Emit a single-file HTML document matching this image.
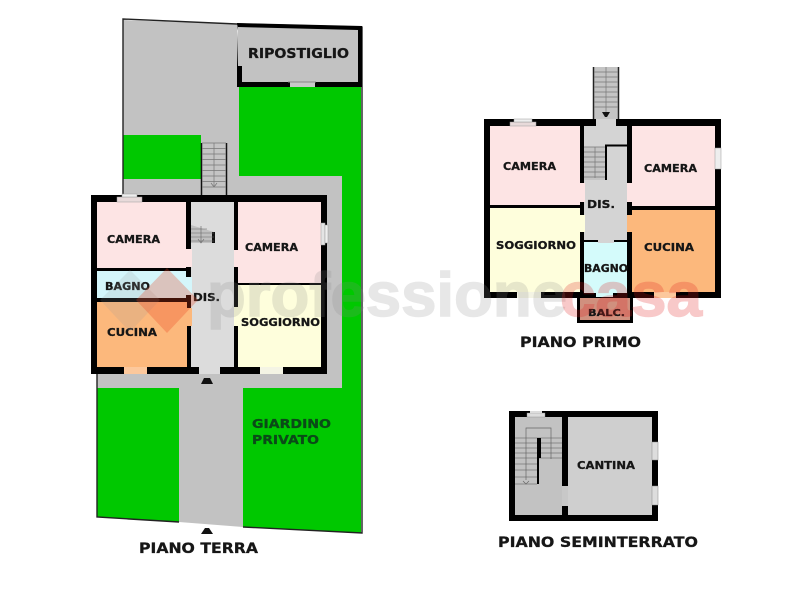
<!DOCTYPE html>
<html><head><meta charset="utf-8"><style>
html,body{margin:0;padding:0;background:#fff;width:800px;height:600px;overflow:hidden}
svg{display:block;filter:blur(.35px)}
text{font-family:"DejaVu Sans","Liberation Sans",sans-serif;font-weight:bold;fill:#161616;stroke:#161616;stroke-width:.3}
</style></head><body>
<svg width="800" height="600" viewBox="0 0 800 600" xmlns="http://www.w3.org/2000/svg">
<!-- PIANO TERRA site -->
<polygon points="123,20 237,24 237,87 239,87 239,176 342,176 342,388 243,388 243,527 179,522 179,388 97,388 97,370 123,195" fill="#c2c2c2"/>
<rect x="239" y="87" width="121" height="89" fill="#00c800"/>
<polygon points="342,87 361,87 361,533 243,527 243,388 342,388" fill="#00c800"/>
<polygon points="97,388 179,388 179,522 97,517" fill="#00c800"/>
<rect x="123" y="135" width="78" height="44" fill="#00c800"/>
<polyline points="123,195 123,19 237,24 362,27 362,533 243,527" fill="none" stroke="#222" stroke-width="1.4"/>
<polyline points="179,522 97,517 97,374" fill="none" stroke="#222" stroke-width="1.4"/>
<!-- ripostiglio -->
<polygon points="237,23 362,26 362,87 237,87 237,66 238,27 358,30 358,82 242,82 242,66" fill="#000"/>
<polygon points="238,27 358,30 358,82 242,82 242,66 238,66" fill="#c2c2c2"/>
<rect x="290" y="82" width="25" height="5" fill="#c8c8c8"/>
<line x1="288" y1="82" x2="316" y2="82" stroke="#888"/>
<text x="248" y="58" font-size="13.5" textLength="101" lengthAdjust="spacingAndGlyphs">RIPOSTIGLIO</text>
<!-- stairs terra -->
<rect x="201" y="143" width="26" height="53" fill="#c4c4c4"/>
<path d="M201.500,143V196M226.500,143V196" stroke="#111" stroke-width="1.500"/>
<path d="M202,143H226M202,148.500H226M202,154H226M202,159.500H226M202,165H226M202,170.500H226M202,176H226M202,181.500H226M202,187H226M214,143V186M211,183L214,187L217,183" stroke="#777" stroke-width=".7" fill="none"/>
<!-- house terra -->
<rect x="91" y="195" width="236" height="179" fill="#000"/>
<rect x="97" y="202" width="89" height="66" fill="#fde4e4"/>
<rect x="97" y="271" width="89" height="27" fill="#d4f6fb"/>
<rect x="97" y="302" width="90" height="65" fill="#fcb87c"/>
<rect x="191" y="202" width="43" height="165" fill="#dcdcdc"/>
<rect x="238" y="202" width="83" height="81" fill="#fde4e4"/>
<rect x="238" y="285" width="83" height="82" fill="#fefedc"/>
<!-- door gaps -->
<rect x="186" y="249" width="6" height="18" fill="#fde4e4"/>
<rect x="234" y="250" width="5" height="17" fill="#fde4e4"/>
<rect x="234" y="307" width="5" height="19" fill="#fefedc"/>
<rect x="186" y="277" width="6" height="18" fill="#d4f6fb"/>
<rect x="186" y="308" width="6" height="18" fill="#fcb87c"/>
<rect x="199" y="367" width="21" height="7" fill="#dcdcdc"/>
<!-- windows -->
<rect x="117" y="197" width="25" height="5" fill="#e8dada" stroke="#999" stroke-width=".5"/>
<rect x="122" y="194" width="15" height="3" fill="#eee" stroke="#999" stroke-width=".5"/>
<rect x="321" y="223" width="4" height="22" fill="#e4e4e4" stroke="#999" stroke-width=".5"/>
<rect x="325" y="225" width="3" height="18" fill="#eee" stroke="#999" stroke-width=".5"/>
<rect x="124" y="367" width="23" height="7" fill="#fcc89c"/>
<rect x="260" y="367" width="23" height="7" fill="#f4f4e4"/>
<!-- inner stair -->
<polygon points="191,225 214,232 214,243 191,243" fill="#c0c0c0"/>
<rect x="212" y="232" width="3" height="11" fill="#111"/>
<path d="M191,229H207M191,233H214M191,237H214M191,241H214M201,226V242M198,239L201,243L204,239" stroke="#666" stroke-width=".6" fill="none"/>
<polygon points="204,378 210,378 213,384 201,384" fill="#111"/>
<polygon points="205,528 209,528 213,534 201,534" fill="#111"/>
<text x="107" y="243" font-size="11" textLength="53" lengthAdjust="spacingAndGlyphs">CAMERA</text>
<text x="245" y="251" font-size="11" textLength="53" lengthAdjust="spacingAndGlyphs">CAMERA</text>
<text x="105" y="290" font-size="11" textLength="45" lengthAdjust="spacingAndGlyphs">BAGNO</text>
<text x="193" y="301" font-size="11" textLength="27" lengthAdjust="spacingAndGlyphs">DIS.</text>
<text x="107" y="336" font-size="11" textLength="50" lengthAdjust="spacingAndGlyphs">CUCINA</text>
<text x="241" y="326" font-size="11" textLength="79" lengthAdjust="spacingAndGlyphs">SOGGIORNO</text>
<text x="252" y="428" font-size="12" textLength="79" lengthAdjust="spacingAndGlyphs" style="fill:#0b4a18;stroke:#0b4a18">GIARDINO</text>
<text x="252" y="444" font-size="12" textLength="67" lengthAdjust="spacingAndGlyphs" style="fill:#0b4a18;stroke:#0b4a18">PRIVATO</text>
<text x="139" y="553" font-size="14" textLength="119" lengthAdjust="spacingAndGlyphs">PIANO TERRA</text>

<!-- PIANO PRIMO -->
<rect x="593" y="67" width="26" height="52" fill="#c4c4c4"/>
<path d="M593.500,67V119M618.500,67V119" stroke="#222" stroke-width="1.500"/>
<path d="M594,72H618M594,77H618M594,82H618M594,87H618M594,92H618M594,97H618M594,102H618M594,107H618M606,67V112" stroke="#777" stroke-width=".7" fill="none"/>
<polygon points="602,112 610,112 607,117 605,117" fill="#111"/>
<rect x="484" y="119" width="237" height="179" fill="#000"/>
<rect x="490" y="126" width="90" height="79" fill="#fde4e4"/>
<rect x="490" y="208" width="90" height="84" fill="#fefedc"/>
<rect x="584" y="126" width="43" height="114" fill="#d4d4d4"/>
<rect x="584" y="242" width="43" height="51" fill="#d4fbfb"/>
<rect x="632" y="126" width="83" height="80" fill="#fde4e4"/>
<rect x="632" y="210" width="83" height="82" fill="#fcb87c"/>
<rect x="580" y="183" width="5" height="19" fill="#fde4e4"/>
<rect x="627" y="183" width="6" height="19" fill="#fde4e4"/>
<rect x="580" y="215" width="5" height="17" fill="#fefedc"/>
<rect x="627" y="215" width="6" height="17" fill="#fcb87c"/>
<rect x="598" y="240" width="16" height="3" fill="#d4d4d4"/>
<rect x="596" y="292" width="17" height="6" fill="#d4fbfb"/>
<rect x="596" y="119" width="20" height="7" fill="#d4d4d4"/>
<rect x="584" y="147" width="22" height="33" fill="#c4c4c4"/>
<path d="M584,147H606M584,152H606M584,157H606M584,162H606M584,167H606M584,172H606M584,177H606M595,147V178" stroke="#777" stroke-width=".7" fill="none"/>
<path d="M606,180V145M605,145.500H627" stroke="#000" stroke-width="2" fill="none"/>
<rect x="510" y="122" width="26" height="4" fill="#e8dada" stroke="#999" stroke-width=".5"/>
<rect x="514" y="119" width="18" height="3" fill="#eee" stroke="#999" stroke-width=".5"/>
<rect x="715" y="148" width="6" height="21" fill="#eee" stroke="#999" stroke-width=".5"/>
<rect x="517" y="292" width="24" height="6" fill="#f4f4e4"/>
<rect x="654" y="292" width="22" height="6" fill="#fcc89c"/>
<rect x="577" y="297" width="56" height="26" fill="#000"/>
<rect x="580" y="298" width="50" height="22" fill="#d0907e"/>
<text x="503" y="170" font-size="11" textLength="53" lengthAdjust="spacingAndGlyphs">CAMERA</text>
<text x="644" y="172" font-size="11" textLength="53" lengthAdjust="spacingAndGlyphs">CAMERA</text>
<text x="587" y="208" font-size="11" textLength="28" lengthAdjust="spacingAndGlyphs">DIS.</text>
<text x="496" y="249" font-size="11" textLength="80" lengthAdjust="spacingAndGlyphs">SOGGIORNO</text>
<text x="644" y="251" font-size="11" textLength="50" lengthAdjust="spacingAndGlyphs">CUCINA</text>
<text x="584" y="272" font-size="11" textLength="44" lengthAdjust="spacingAndGlyphs">BAGNO</text>
<text x="588" y="316" font-size="10" textLength="37" lengthAdjust="spacingAndGlyphs">BALC.</text>
<text x="520" y="347" font-size="14" textLength="121" lengthAdjust="spacingAndGlyphs">PIANO PRIMO</text>

<!-- SEMINTERRATO -->
<rect x="509" y="411" width="149" height="110" fill="#000"/>
<rect x="515" y="417" width="47" height="98" fill="#c2c2c2"/>
<rect x="568" y="417" width="84" height="98" fill="#cfcfcf"/>
<rect x="562" y="486" width="6" height="20" fill="#c8c8c8"/>
<rect x="527" y="413" width="18" height="4" fill="#ddd" stroke="#888" stroke-width=".4"/>
<rect x="530" y="411" width="12" height="2" fill="#ddd"/>
<rect x="652" y="442" width="6" height="18" fill="#ddd" stroke="#888" stroke-width=".5"/>
<rect x="652" y="486" width="6" height="19" fill="#ddd" stroke="#888" stroke-width=".5"/>
<path d="M515,438H562M515,443H562M515,448H562M515,453H562M515,458H562M515,464H537M515,470H537M515,477H537M515,484H537" stroke="#777" stroke-width=".7"/>
<path d="M526,480V428H551V459" stroke="#666" stroke-width=".7" fill="none"/>
<path d="M523,481L526,484L529,481" stroke="#666" stroke-width=".7" fill="none"/>
<rect x="537" y="438" width="4" height="20" fill="#000"/>
<rect x="537" y="458" width="2" height="26" fill="#000"/>
<text x="577" y="469" font-size="11" textLength="58" lengthAdjust="spacingAndGlyphs">CANTINA</text>
<text x="498" y="547" font-size="14" textLength="200" lengthAdjust="spacingAndGlyphs">PIANO SEMINTERRATO</text>

<!-- watermark -->
<polygon points="130,270 160,300 130,332 100,300" fill="#999" opacity=".18"/>
<polygon points="167,268 198,300 167,333 136,300" fill="#e8401c" opacity=".28"/>
<text x="207" y="316" font-size="62" textLength="360" lengthAdjust="spacingAndGlyphs" opacity=".2" style="fill:#888;stroke:#888;stroke-width:1.5;font-family:'Liberation Sans',sans-serif">professione</text>
<text x="560" y="316" font-size="62" textLength="142" lengthAdjust="spacingAndGlyphs" opacity=".24" style="fill:#e02020;stroke:#e02020;stroke-width:1.5;font-family:'Liberation Sans',sans-serif">casa</text>
</svg>
</body></html>
